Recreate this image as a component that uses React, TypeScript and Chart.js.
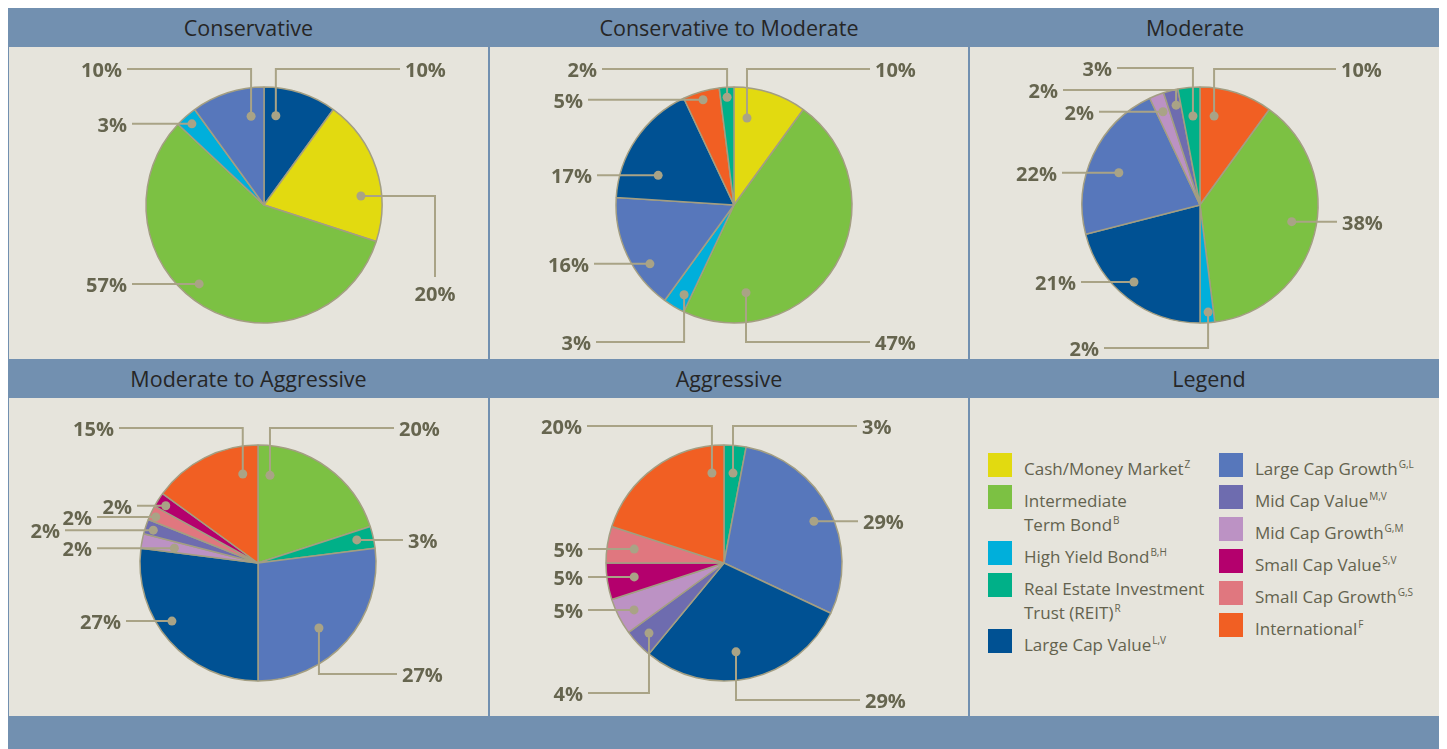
import React, { useEffect, useRef } from "react";
import { Chart, registerables } from "chart.js";
Chart.register(...registerables);

// ---------- data ----------
const categoryKeys = ["CASH", "ITB", "HY", "REIT", "LCV", "LCG", "MCV", "MCG", "SCV", "SCG", "INTL"];
const categoryNames = [
  "Cash/Money Market",
  "Intermediate\nTerm Bond",
  "High Yield Bond",
  "Real Estate Investment\nTrust (REIT)",
  "Large Cap Value",
  "Large Cap Growth",
  "Mid Cap Value",
  "Mid Cap Growth",
  "Small Cap Value",
  "Small Cap Growth",
  "International",
];
const categoryNotes = ["Z", "B", "B,H", "R", "L,V", "G,L", "M,V", "G,M", "S,V", "G,S", "F"];

const portfolioTitles = ["Conservative", "Conservative to Moderate", "Moderate", "Moderate to Aggressive", "Aggressive"];
const legendTitle = "Legend";

const conservativeCats = ["LCV", "CASH", "ITB", "HY", "LCG"];
const conservativeValues = [10, 20, 57, 3, 10];

const consModCats = ["CASH", "ITB", "HY", "LCG", "LCV", "INTL", "REIT"];
const consModValues = [10, 47, 3, 16, 17, 5, 2];

const moderateCats = ["INTL", "ITB", "HY", "LCV", "LCG", "MCG", "MCV", "REIT"];
const moderateValues = [10, 38, 2, 21, 22, 2, 2, 3];

const modAggCats = ["ITB", "REIT", "LCG", "LCV", "MCG", "MCV", "SCG", "SCV", "INTL"];
const modAggValues = [20, 3, 27, 27, 2, 2, 2, 2, 15];

const aggressiveCats = ["REIT", "LCG", "LCV", "MCV", "MCG", "SCV", "SCG", "INTL"];
const aggressiveValues = [3, 29, 29, 4, 5, 5, 5, 20];

// ---------- styles ----------
const palette: Record<string, string> = {
  CASH: "#e2da10",
  ITB: "#7cc143",
  HY: "#00afdb",
  REIT: "#00b088",
  LCV: "#005193",
  LCG: "#5777bb",
  MCV: "#6e6caf",
  MCG: "#bc92c4",
  SCV: "#b4006d",
  SCG: "#e0777f",
  INTL: "#f15f23",
};
const FRAME = "#7290b0";
const PANEL = "#e6e4dc";
const LINE = "#a9a386";
const EDGE = "#a39e82";
const LABEL = "#66654f";
const TITLE = "#262626";
const LEGEND_TEXT = "#63624e";
const FONT = "'Open Sans', 'Noto Sans', sans-serif";
const R = 118;
const BORDER = 1.5;

type Leader = { t: number; f: number; r: "h" | "v" | "d"; lx: number; ly?: number };

// leader-line layout (t: position across slice, f: fraction of radius, lx/ly: label anchor from centre)
const conservativeLeaders: Leader[] = [
  { t: 0.21, f: 0.763, r: "v", lx: 136, ly: -136 },
  { t: 0.676, f: 0.825, r: "d", lx: 171, ly: 72 },
  { t: 0.543, f: 0.866, r: "h", lx: -132 },
  { t: 0.48, f: 0.92, r: "h", lx: -132 },
  { t: 0.77, f: 0.76, r: "v", lx: -137, ly: -136 },
];
const consModLeaders: Leader[] = [
  { t: 0.236, f: 0.745, r: "v", lx: 136, ly: -136 },
  { t: 0.805, f: 0.75, r: "v", lx: 136, ly: 137 },
  { t: 0.36, f: 0.87, r: "v", lx: -138, ly: 137 },
  { t: 0.33, f: 0.87, r: "h", lx: -140 },
  { t: 0.29, f: 0.69, r: "h", lx: -137 },
  { t: 0.49, f: 0.93, r: "h", lx: -146 },
  { t: 0.49, f: 0.915, r: "v", lx: -132, ly: -136 },
];
const moderateLeaders: Leader[] = [
  { t: 0.25, f: 0.763, r: "v", lx: 136, ly: -136 },
  { t: 0.47, f: 0.79, r: "h", lx: 137 },
  { t: 0.4, f: 0.91, r: "v", lx: -96, ly: 143 },
  { t: 0.537, f: 0.86, r: "h", lx: -119 },
  { t: 0.455, f: 0.74, r: "h", lx: -138 },
  { t: 0.49, f: 0.85, r: "h", lx: -101 },
  { t: 0.63, f: 0.87, r: "v", lx: -137, ly: -115 },
  { t: 0.58, f: 0.757, r: "v", lx: -83, ly: -137 },
];
const modAggLeaders: Leader[] = [
  { t: 0.108, f: 0.75, r: "v", lx: 136, ly: -135 },
  { t: 0.45, f: 0.86, r: "h", lx: 145 },
  { t: 0.556, f: 0.755, r: "v", lx: 139, ly: 111 },
  { t: 0.576, f: 0.88, r: "h", lx: -132 },
  { t: 0.4, f: 0.72, r: "h", lx: -161 },
  { t: 0.42, f: 0.93, r: "h", lx: -193 },
  { t: 0.37, f: 0.95, r: "h", lx: -161 },
  { t: 0.42, f: 0.92, r: "h", lx: -121 },
  { t: 0.82, f: 0.765, r: "v", lx: -139, ly: -135 },
];
const aggressiveLeaders: Leader[] = [
  { t: 0.53, f: 0.766, r: "v", lx: 133, ly: -137 },
  { t: 0.52, f: 0.84, r: "h", lx: 134 },
  { t: 0.547, f: 0.76, r: "v", lx: 136, ly: 137 },
  { t: 0.51, f: 0.87, r: "v", lx: -136, ly: 130 },
  { t: 0.47, f: 0.86, r: "h", lx: -136 },
  { t: 0.51, f: 0.77, r: "h", lx: -136 },
  { t: 0.49, f: 0.77, r: "h", lx: -136 },
  { t: 0.894, f: 0.77, r: "v", lx: -137, ly: -137 },
];

const nameOf = (k: string) => categoryNames[categoryKeys.indexOf(k)].replace("\n", " ");

function leaderPlugin(layout: Leader[], values: number[]) {
  return {
    id: "leaders",
    afterDatasetsDraw(chart: any) {
      const ctx = chart.ctx as CanvasRenderingContext2D;
      const meta = chart.getDatasetMeta(0);
      ctx.save();
      meta.data.forEach((arc: any, i: number) => {
        const L = layout[i];
        if (!L) return;
        const p = arc.getProps(["x", "y", "startAngle", "endAngle", "outerRadius"], true);
        const a = p.startAngle + L.t * (p.endAngle - p.startAngle);
        const dx = p.x + Math.cos(a) * L.f * p.outerRadius;
        const dy = p.y + Math.sin(a) * L.f * p.outerRadius;
        ctx.strokeStyle = LINE;
        ctx.lineWidth = 2;
        ctx.lineJoin = "miter";
        ctx.beginPath();
        ctx.moveTo(dx, dy);
        let ty = dy;
        if (L.r === "h") {
          ctx.lineTo(p.x + L.lx, dy);
        } else if (L.r === "v") {
          ty = p.y + (L.ly as number);
          ctx.lineTo(dx, ty);
          ctx.lineTo(p.x + L.lx, ty);
        } else {
          ty = p.y + (L.ly as number);
          ctx.lineTo(p.x + L.lx, dy);
          ctx.lineTo(p.x + L.lx, ty);
        }
        ctx.stroke();
        ctx.fillStyle = LINE;
        ctx.beginPath();
        ctx.arc(dx, dy, 4.5, 0, Math.PI * 2);
        ctx.fill();
        ctx.fillStyle = LABEL;
        ctx.font = `bold 20px ${FONT}`;
        ctx.textBaseline = "alphabetic";
        const text = `${values[i]}%`;
        if (L.r === "d") {
          ctx.textAlign = "center";
          ctx.fillText(text, p.x + L.lx, ty + 24);
        } else if (L.lx < 0) {
          ctx.textAlign = "right";
          ctx.fillText(text, p.x + L.lx - 5, ty + 8);
        } else {
          ctx.textAlign = "left";
          ctx.fillText(text, p.x + L.lx + 5, ty + 8);
        }
      });
      ctx.restore();
    },
  };
}

type PieProps = { cats: string[]; values: number[]; leaders: Leader[]; cx: number; cy: number; w: number; h: number };

function PieChart({ cats, values, leaders, cx, cy, w, h }: PieProps) {
  const ref = useRef<HTMLCanvasElement>(null);
  useEffect(() => {
    const half = R + BORDER / 2;
    const chart = new Chart(ref.current as HTMLCanvasElement, {
      type: "pie",
      data: {
        labels: cats.map(nameOf),
        datasets: [
          {
            data: values,
            backgroundColor: cats.map((k) => palette[k]),
            borderColor: EDGE,
            borderWidth: BORDER,
          },
        ],
      },
      options: {
        responsive: false,
        maintainAspectRatio: false,
        animation: false,
        devicePixelRatio: 1,
        events: [],
        layout: { padding: { left: cx - half, top: cy - half, right: w - cx - half, bottom: h - cy - half } },
        plugins: { legend: { display: false }, tooltip: { enabled: false }, title: { display: false } },
      } as any,
      plugins: [leaderPlugin(leaders, values)],
    });
    return () => chart.destroy();
  }, []);
  return <canvas ref={ref} width={w} height={h} style={{ position: "absolute", left: 0, top: 0, width: w, height: h }} />;
}

const ROW1_TOP = 39;
const ROW1_H = 312;
const ROW2_TOP = 390;
const ROW2_H = 318;
const COLS = [
  { left: 1, w: 479 },
  { left: 482, w: 478 },
  { left: 962, w: 471 },
];

function Header({ text, cx, top }: { text: string; cx: number; top: number }) {
  return (
    <div
      style={{
        position: "absolute",
        left: cx - 250,
        width: 500,
        top,
        height: 39,
        lineHeight: "39px",
        textAlign: "center",
        font: `21.5px ${FONT}`,
        color: TITLE,
        whiteSpace: "nowrap",
      }}
    >
      {text}
    </div>
  );
}

function LegendEntry({ k, x, y }: { k: string; x: number; y: number }) {
  const idx = categoryKeys.indexOf(k);
  const lines = categoryNames[idx].split("\n");
  return (
    <div style={{ position: "absolute", left: x, top: y }}>
      <div style={{ position: "absolute", left: 0, top: 0, width: 24, height: 24, background: palette[k] }} />
      <div
        style={{
          position: "absolute",
          left: 36,
          top: 4,
          font: `17px ${FONT}`,
          lineHeight: "24px",
          color: LEGEND_TEXT,
          whiteSpace: "nowrap",
        }}
      >
        {lines.map((ln, j) => (
          <div key={j}>
            {ln}
            {j === lines.length - 1 && (
              <span style={{ fontSize: 10, position: "relative", top: -7, marginLeft: 1 }}>{categoryNotes[idx]}</span>
            )}
          </div>
        ))}
      </div>
    </div>
  );
}

function Legend() {
  const leftKeys = ["CASH", "ITB", "HY", "REIT", "LCV"];
  const rightKeys = ["LCG", "MCV", "MCG", "SCV", "SCG", "INTL"];
  let y = 55;
  const left = leftKeys.map((k) => {
    const lines = categoryNames[categoryKeys.indexOf(k)].split("\n").length;
    const el = <LegendEntry key={k} k={k} x={18} y={y} />;
    y += 8 + 24 * lines;
    return el;
  });
  const right = rightKeys.map((k, i) => <LegendEntry key={k} k={k} x={249} y={55 + 32 * i} />);
  return (
    <>
      {left}
      {right}
    </>
  );
}

export default function App() {
  useEffect(() => {
    document.documentElement.style.overflow = "hidden";
  }, []);
  const panel = (left: number, top: number, w: number, h: number, child: React.ReactNode) => (
    <div style={{ position: "absolute", left, top, width: w, height: h, background: PANEL, overflow: "hidden" }}>{child}</div>
  );
  return (
    <div style={{ position: "relative", width: 1439, height: 741, background: FRAME, overflow: "hidden" }}>
      <Header text={portfolioTitles[0]} cx={240.5} top={5} />
      <Header text={portfolioTitles[1]} cx={721} top={5} />
      <Header text={portfolioTitles[2]} cx={1187} top={5} />
      <Header text={portfolioTitles[3]} cx={240.5} top={356} />
      <Header text={portfolioTitles[4]} cx={721} top={356} />
      <Header text={legendTitle} cx={1201} top={356} />
      {panel(COLS[0].left, ROW1_TOP, COLS[0].w, ROW1_H,
        <PieChart cats={conservativeCats} values={conservativeValues} leaders={conservativeLeaders} cx={255} cy={158} w={COLS[0].w} h={ROW1_H} />)}
      {panel(COLS[1].left, ROW1_TOP, COLS[1].w, ROW1_H,
        <PieChart cats={consModCats} values={consModValues} leaders={consModLeaders} cx={244} cy={158} w={COLS[1].w} h={ROW1_H} />)}
      {panel(COLS[2].left, ROW1_TOP, COLS[2].w, ROW1_H,
        <PieChart cats={moderateCats} values={moderateValues} leaders={moderateLeaders} cx={230} cy={158} w={COLS[2].w} h={ROW1_H} />)}
      {panel(COLS[0].left, ROW2_TOP, COLS[0].w, ROW2_H,
        <PieChart cats={modAggCats} values={modAggValues} leaders={modAggLeaders} cx={249} cy={165} w={COLS[0].w} h={ROW2_H} />)}
      {panel(COLS[1].left, ROW2_TOP, COLS[1].w, ROW2_H,
        <PieChart cats={aggressiveCats} values={aggressiveValues} leaders={aggressiveLeaders} cx={234} cy={165} w={COLS[1].w} h={ROW2_H} />)}
      {panel(COLS[2].left, ROW2_TOP, COLS[2].w, ROW2_H, <Legend />)}
    </div>
  );
}
